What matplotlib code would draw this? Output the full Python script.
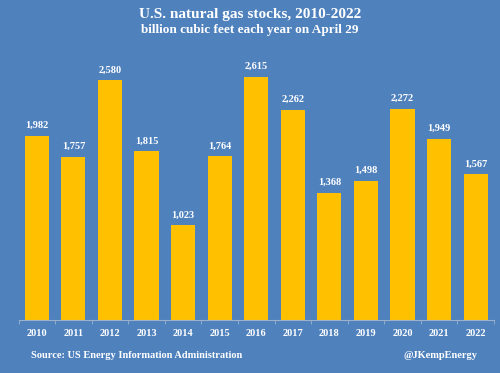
import numpy as np
import matplotlib.pyplot as plt

# data
years = ['2010', '2011', '2012', '2013', '2014', '2015', '2016',
         '2017', '2018', '2019', '2020', '2021', '2022']
stocks = [1982, 1757, 2580, 1815, 1023, 1764, 2615,
          2262, 1368, 1498, 2272, 1949, 1567]

bg = '#4F81BD'
gold = '#FFC000'
plt.rcParams['font.family'] = ['Liberation Serif', 'DejaVu Serif']
plt.rcParams['font.weight'] = 'bold'

fig = plt.figure(figsize=(5, 3.73), dpi=100, facecolor=bg)
ax = fig.add_axes([0.037, 0.142, 0.951, 0.748], facecolor=bg)

x = np.arange(len(years))
bars = ax.bar(x, stocks, width=0.66, color=gold)
for b, v in zip(bars, stocks):
    ax.text(b.get_x() + b.get_width() / 2, v + 60, f'{v:,}',
            ha='center', va='bottom', color='white', fontsize=7.5, fontweight='bold')

ax.set_xlim(-0.5, len(years) - 0.5)
ax.set_ylim(0, 3000)
ax.set_xticks(x)
ax.set_xticklabels(years, color='white', fontsize=7.5, fontweight='bold')
ax.tick_params(axis='x', length=0, pad=6.5)
# small marks between categories
ax.set_xticks(np.arange(-0.5, len(years)), minor=True)
ax.tick_params(axis='x', which='minor', length=3, color='#9DB1CF')
ax.set_yticks([])
for s in ['top', 'right', 'left']:
    ax.spines[s].set_visible(False)
ax.spines['bottom'].set_color('#9DB1CF')
ax.spines['bottom'].set_linewidth(0.8)

fig.text(0.5, 0.962, 'U.S. natural gas stocks, 2010-2022', ha='center', va='center',
         color='white', fontsize=11, fontweight='bold')
fig.text(0.5, 0.92, 'billion cubic feet each year on April 29', ha='center', va='center',
         color='white', fontsize=9.5, fontweight='bold')
fig.text(0.062, 0.046, 'Source: US Energy Information Administration', ha='left', va='center',
         color='white', fontsize=7.5, fontweight='bold')
fig.text(0.955, 0.046, '@JKempEnergy', ha='right', va='center',
         color='white', fontsize=7.5, fontweight='bold')

fig.savefig('out.png', dpi=100, facecolor=bg)
